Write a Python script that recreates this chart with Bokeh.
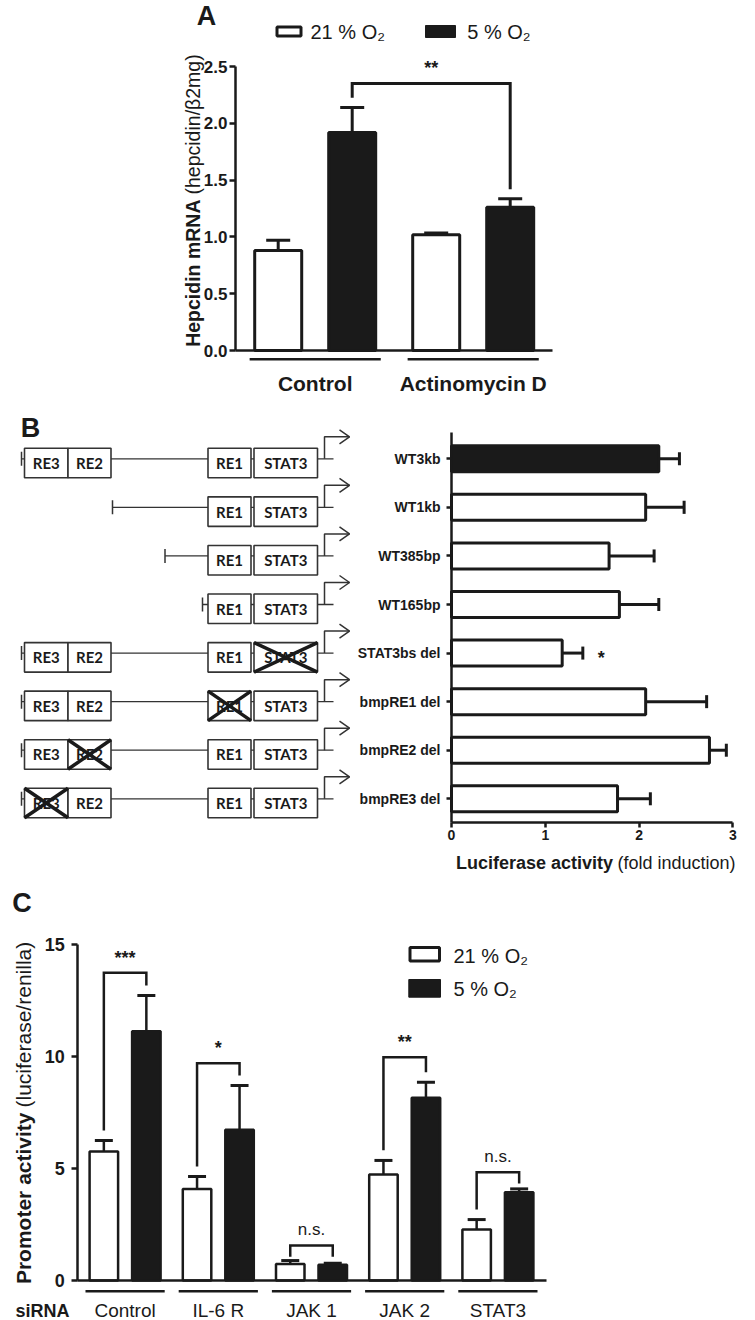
import numpy as np
from bokeh.plotting import figure
from bokeh.models import Range1d, LinearAxis, FixedTicker, PrintfTickFormatter
from bokeh.layouts import column
from bokeh.core.properties import value
from bokeh.embed import file_html
from bokeh.resources import INLINE

# ---------------- Panel A data ----------------
A_groups = ["Control", "Actinomycin D"]
A_o2_21 = [0.88, 1.02]
A_o2_21_err = [0.09, 0.015]
A_o2_5 = [1.92, 1.26]
A_o2_5_err = [0.22, 0.075]
A_ticks = [0.0, 0.5, 1.0, 1.5, 2.0, 2.5]
A_sig_label = "**"
A_sig_height = 2.35

# ---------------- Panel B data ----------------
B_constructs = ["WT3kb", "WT1kb", "WT385bp", "WT165bp",
                "STAT3bs del", "bmpRE1 del", "bmpRE2 del", "bmpRE3 del"]
B_activity = [2.21, 2.07, 1.68, 1.79, 1.18, 2.07, 2.75, 1.77]
B_activity_err = [0.22, 0.41, 0.48, 0.42, 0.22, 0.65, 0.18, 0.35]
B_reference = [True, False, False, False, False, False, False, False]
B_sig = ["", "", "", "", "*", "", "", ""]
B_ticks = [0, 1, 2, 3]
B_elements = [["RE3", "RE2", "RE1", "STAT3"], ["RE1", "STAT3"], ["RE1", "STAT3"], ["RE1", "STAT3"],
              ["RE3", "RE2", "RE1", "STAT3"], ["RE3", "RE2", "RE1", "STAT3"],
              ["RE3", "RE2", "RE1", "STAT3"], ["RE3", "RE2", "RE1", "STAT3"]]
B_deleted = [None, None, None, None, "STAT3", "RE1", "RE2", "RE3"]

# ---------------- Panel C data ----------------
C_groups = ["Control", "IL-6 R", "JAK 1", "JAK 2", "STAT3"]
C_o2_21 = [5.76, 4.09, 0.74, 4.73, 2.28]
C_o2_21_err = [0.49, 0.55, 0.15, 0.63, 0.44]
C_o2_5 = [11.13, 6.73, 0.70, 8.16, 3.94]
C_o2_5_err = [1.59, 1.97, 0.07, 0.69, 0.15]
C_sig = ["***", "*", "n.s.", "**", "n.s."]
C_sig_height = [13.74, 9.70, 1.56, 9.97, 4.83]
C_ticks = [0, 5, 10, 15]

# ---------------- layout / style ----------------
W = 755
PAGE_L, PAGE_R = 0, 755
INK = "#1a1a1a"
FONT = value("Liberation Sans")


def mk(h, xr, yr):
    p = figure(width=W, height=h, x_range=xr, y_range=yr, output_backend="svg",
               toolbar_location=None, min_border=0, x_axis_type=None, y_axis_type=None,
               outline_line_color=None, background_fill_color="white",
               border_fill_color="white")
    return p


def txt(p, x, y, s, size, bold=False, align="center", baseline="middle", angle=0,
        font=FONT, **kw):
    p.text(x=[x], y=[y], text=[s], text_font=font, text_font_size=f"{size}px",
           text_font_style="bold" if bold else "normal", text_align=align,
           text_baseline=baseline, angle=angle, text_color=INK, **kw)


def axis(loc, ticks, bounds, label_size=0, tick_out=6, standoff=4, lw=2.5,
         fmt=None, overrides=None):
    kw = dict(fixed_location=loc, ticker=FixedTicker(ticks=ticks), bounds=bounds,
              axis_line_width=lw, axis_line_color=INK, major_tick_line_width=lw,
              major_tick_line_color=INK, major_tick_out=tick_out, major_tick_in=0,
              minor_tick_out=0, minor_tick_in=0, major_label_standoff=standoff,
              major_label_text_font="Liberation Sans", major_label_text_font_style="bold",
              major_label_text_color=INK, major_label_text_font_size=f"{label_size}px")
    if fmt is not None:
        kw["formatter"] = fmt
    if overrides is not None:
        kw["major_label_overrides"] = overrides
    return LinearAxis(**kw)


# =============== Panel A ===============
TA, BA = 0, 395
X0A, XPA, Y0A, YPA = 314.7, 158.0, 350.0, 113.6
ax = lambda px: (px - X0A) / XPA
ay = lambda py: (Y0A - py) / YPA
pA = mk(BA - TA, Range1d(ax(PAGE_L), ax(PAGE_R)), Range1d(ay(BA), ay(TA)))

gA = np.arange(len(A_groups))
offA, bwA, capA = 37 / XPA, 47 / XPA, 24 / XPA
x21, x5 = gA - offA, gA + offA
top21 = np.array(A_o2_21) + np.array(A_o2_21_err)
top5 = np.array(A_o2_5) + np.array(A_o2_5_err)
for xs, vals, tops in [(x21, A_o2_21, top21), (x5, A_o2_5, top5)]:
    pA.segment(x0=xs, y0=vals, x1=xs, y1=tops, line_color=INK, line_width=3)
    pA.segment(x0=xs - capA / 2, y0=tops, x1=xs + capA / 2, y1=tops, line_color=INK, line_width=3)
pA.vbar(x=x21, top=A_o2_21, bottom=0, width=bwA, fill_color="white", line_color=INK, line_width=3)
pA.vbar(x=x5, top=A_o2_5, bottom=0, width=bwA, fill_color=INK, line_color=INK, line_width=3)

pA.add_layout(axis(ax(235), A_ticks, (0, 2.5), label_size=17, tick_out=6, standoff=2,
                   fmt=PrintfTickFormatter(format="%.1f")), "left")
pA.add_layout(axis(0, [], (ax(235), ax(552)), tick_out=0), "below")

pA.segment(x0=gA - 0.415, y0=ay(358.7), x1=gA + 0.415, y1=ay(358.7), line_color=INK, line_width=2.5)
for g, name in zip(gA, A_groups):
    txt(pA, g, ay(383), name, 21, bold=True)

gap = 0.085
pA.multi_line(xs=[[x5[0], x5[0], x5[1], x5[1]]],
              ys=[[top5[0] + gap, A_sig_height, A_sig_height, top5[1] + gap]],
              line_color=INK, line_width=3, line_join="miter")
txt(pA, (x5[0] + x5[1]) / 2, A_sig_height + 16 / YPA, A_sig_label, 18, bold=True)

# legend A
pA.quad(left=[ax(276.5)], right=[ax(300.5)], top=[ay(26.5)], bottom=[ay(35.5)],
        fill_color="white", line_color=INK, line_width=3)
pA.quad(left=[ax(425)], right=[ax(455)], top=[ay(25)], bottom=[ay(37)],
        fill_color=INK, line_color=INK, line_width=1)
txt(pA, ax(310), ay(31), "21 % O₂", 20, align="left")
txt(pA, ax(466.7), ay(31), "5 % O₂", 20, align="left")

# y label A
txt(pA, ax(192.5), ay(199), "Hepcidin mRNA", 19.5, bold=True, align="right", angle=np.pi / 2)
txt(pA, ax(192.5), ay(194), "(hepcidin/β2mg)", 19.5, align="left", angle=np.pi / 2)
txt(pA, ax(206), ay(15), "A", 27, bold=True)

# =============== Panel B ===============
TB, BB = 395, 875
X0B, XPB, R0B, RPB = 451.0, 93.8, 458.3, 48.57
bx = lambda px: (px - X0B) / XPB
by = lambda py: (py - R0B) / RPB
pB = mk(BB - TB, Range1d(bx(PAGE_L), bx(PAGE_R)), Range1d(by(BB), by(TB)))
pB.extra_x_ranges = {"px": Range1d(PAGE_L, PAGE_R)}

rows = np.arange(len(B_constructs))
ends = np.array(B_activity) + np.array(B_activity_err)
pB.segment(x0=B_activity, y0=rows, x1=ends, y1=rows, line_color=INK, line_width=3)
pB.segment(x0=ends, y0=rows - 6.5 / RPB, x1=ends, y1=rows + 6.5 / RPB, line_color=INK, line_width=3)
pB.hbar(y=rows, left=0, right=B_activity, height=26 / RPB,
        fill_color=[INK if r else "white" for r in B_reference], line_color=INK, line_width=3)
for i, s in enumerate(B_sig):
    if s:
        txt(pB, ends[i] + 18.4 / XPB, i + 4.5 / RPB, s, 18, bold=True)

pB.add_layout(axis(0, list(rows), (by(432.3), by(821.7)), label_size=14, tick_out=5,
                   standoff=6, overrides={int(i): n for i, n in enumerate(B_constructs)}), "left")
pB.add_layout(axis(by(821.7), B_ticks, (0, 3), label_size=14, tick_out=5, standoff=3), "below")
txt(pB, bx(612.5), by(862), "Luciferase activity", 18, bold=True, align="right")
txt(pB, bx(617), by(862), "(fold induction)", 18, align="left")
txt(pB, bx(30), by(427), "B", 27, bold=True)

# promoter construct diagrams (pixel x scale)
DIAG_BOX_PX = {"RE3": (24, 67.5), "RE2": (67.5, 110.5), "RE1": (207.5, 250.5), "STAT3": (253.5, 317)}
DIAG_START_PX = [21, 112, 164.5, 202, 21, 21, 21, 21]
DNA_END_PX, TSS_PX, ARROW_END_PX = 333, 324, 349
BOX_TOP, BOX_BOT = -10.5 / RPB, 19 / RPB
dna_x0, dna_x1, dna_y = [], [], []
tk_x, tk_y0, tk_y1 = [], [], []
arrow_xs, arrow_ys = [], []
bl, br, bt, bb_ = [], [], [], []
lab_x, lab_y, lab_t = [], [], []
cross_xs, cross_ys = [], []
for i, (elems, dele) in enumerate(zip(B_elements, B_deleted)):
    s = DIAG_START_PX[i]
    dna_x0.append(s); dna_x1.append(DNA_END_PX); dna_y.append(i)
    tk_x.append(s); tk_y0.append(i - 7 / RPB); tk_y1.append(i + 7 / RPB)
    yt = i - 22 / RPB
    arrow_xs.append([TSS_PX, TSS_PX, ARROW_END_PX]); arrow_ys.append([i, yt, yt])
    arrow_xs.append([ARROW_END_PX - 10, ARROW_END_PX, ARROW_END_PX - 10])
    arrow_ys.append([yt - 7 / RPB, yt, yt + 7 / RPB])
    for e in elems:
        l, r = DIAG_BOX_PX[e]
        bl.append(l); br.append(r); bt.append(i + BOX_TOP); bb_.append(i + BOX_BOT)
        lab_x.append((l + r) / 2); lab_y.append(i + (BOX_TOP + BOX_BOT) / 2); lab_t.append(e)
        if e == dele:
            cross_xs += [[l, r], [l, r]]
            cross_ys += [[i + BOX_TOP, i + BOX_BOT], [i + BOX_BOT, i + BOX_TOP]]

pB.segment(x0=dna_x0, y0=dna_y, x1=dna_x1, y1=dna_y, line_color="#333333", line_width=1.3,
           x_range_name="px")
pB.segment(x0=tk_x, y0=tk_y0, x1=tk_x, y1=tk_y1, line_color="#333333", line_width=1.5,
           x_range_name="px")
pB.multi_line(xs=arrow_xs, ys=arrow_ys, line_color="#333333", line_width=1.5, x_range_name="px")
pB.quad(left=bl, right=br, top=bt, bottom=bb_, fill_color="white", line_color="#333333",
        line_width=1.6, x_range_name="px")
pB.text(x=lab_x, y=lab_y, text=lab_t, text_font=value("Lato"), text_font_style="bold",
        text_font_size="15px", text_align="center", text_baseline="middle", text_color=INK,
        x_range_name="px")
pB.multi_line(xs=cross_xs, ys=cross_ys, line_color=INK, line_width=3.5, x_range_name="px")

# =============== Panel C ===============
TC, BC = 875, 1320
X0C, XPC, Y0C, YPC = 124.6, 93.2, 1280.0, 22.4
cx = lambda px: (px - X0C) / XPC
cy = lambda py: (Y0C - py) / YPC
pC = mk(BC - TC, Range1d(cx(PAGE_L), cx(PAGE_R)), Range1d(cy(BC), cy(TC)))

gC = np.arange(len(C_groups))
offC, bwC, capC = 21.25 / XPC, 28.5 / XPC, 18 / XPC
c21, c5 = gC - offC, gC + offC
ct21 = np.array(C_o2_21) + np.array(C_o2_21_err)
ct5 = np.array(C_o2_5) + np.array(C_o2_5_err)
for xs, vals, tops in [(c21, C_o2_21, ct21), (c5, C_o2_5, ct5)]:
    pC.segment(x0=xs, y0=vals, x1=xs, y1=tops, line_color=INK, line_width=2.5)
    pC.segment(x0=xs - capC / 2, y0=tops, x1=xs + capC / 2, y1=tops, line_color=INK, line_width=3)
pC.vbar(x=c21, top=C_o2_21, bottom=0, width=bwC, fill_color="white", line_color=INK, line_width=2.5)
pC.vbar(x=c5, top=C_o2_5, bottom=0, width=bwC, fill_color=INK, line_color=INK, line_width=2.5)

pC.add_layout(axis(cx(77.3), C_ticks, (0, 15), label_size=18, tick_out=6, standoff=7), "left")
pC.add_layout(axis(0, [], (cx(77.3), cx(545.7)), tick_out=0), "below")
pC.segment(x0=gC - 0.425, y0=cy(1290.7), x1=gC + 0.425, y1=cy(1290.7), line_color=INK, line_width=2.5)
for g, name in zip(gC, C_groups):
    txt(pC, g, cy(1310), name, 19)
txt(pC, cx(15), cy(1310), "siRNA", 18, bold=True, align="left")

br_xs, br_ys = [], []
for g in gC:
    h = C_sig_height[g]
    yl = min(ct21[g] + 0.45, h - 0.5)
    yr_ = min(ct5[g] + 0.45, h - 0.5)
    br_xs.append([c21[g], c21[g], c5[g], c5[g]])
    br_ys.append([yl, h, h, yr_])
    s = C_sig[g]
    if s.startswith("*"):
        txt(pC, gC[g], h + 15 / YPC, s, 18, bold=True)
    else:
        txt(pC, gC[g], h + 16 / YPC, s, 17)
pC.multi_line(xs=br_xs, ys=br_ys, line_color=INK, line_width=2.5, line_join="miter")

# legend C
pC.quad(left=[cx(409.5)], right=[cx(439)], top=[cy(947)], bottom=[cy(960.5)],
        fill_color="white", line_color=INK, line_width=3)
pC.quad(left=[cx(408.3)], right=[cx(440)], top=[cy(979)], bottom=[cy(996.7)],
        fill_color=INK, line_color=INK, line_width=1)
txt(pC, cx(453), cy(955.7), "21 % O₂", 20, align="left")
txt(pC, cx(453), cy(988), "5 % O₂", 20, align="left")

txt(pC, cx(22.5), cy(1112), "Promoter activity", 21, bold=True, align="right", angle=np.pi / 2)
txt(pC, cx(22.5), cy(1107), "(luciferase/renilla)", 21, align="left", angle=np.pi / 2)
txt(pC, cx(21.5), cy(902.5), "C", 27, bold=True)

layout = column(pA, pB, pC, spacing=0)
open("out.html", "w").write(file_html(layout, INLINE))
